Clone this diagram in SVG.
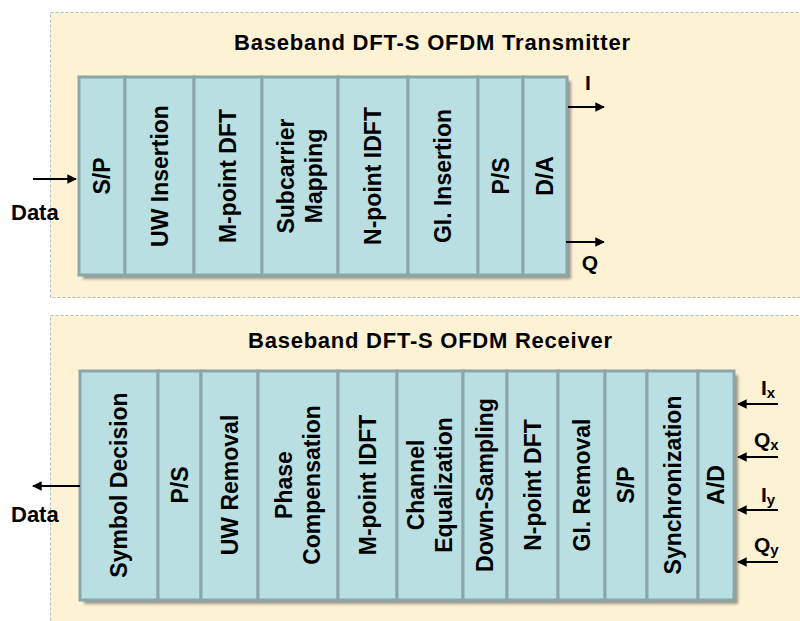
<svg xmlns="http://www.w3.org/2000/svg" width="800" height="621" viewBox="0 0 800 621">
  <style>
    .panel { fill: #fef2d5; stroke: #a9c1c2; stroke-width: 1; stroke-dasharray: 3 2; }
    .cell { fill: #b9dfe2; stroke: #8ba6a8; stroke-width: 3; }
    .lbl { font-family: "Liberation Sans", Arial, sans-serif; font-weight: bold; font-size: 23px; fill: #000; text-anchor: middle; }
    .title { font-family: "Liberation Sans", Arial, sans-serif; font-weight: bold; font-size: 22px; fill: #000; text-anchor: middle; }
    .io { font-family: "Liberation Sans", Arial, sans-serif; font-weight: bold; font-size: 21px; fill: #000; }
    .data { font-size: 22px; }
    .sub { font-size: 15px; }
    .wire { stroke: #000; stroke-width: 2.2; fill: none; marker-end: url(#head); }
  </style>
  <defs>
    <marker id="head" viewBox="0 0 10 10" refX="9" refY="5" markerWidth="4.4" markerHeight="4.4" orient="auto" markerUnits="strokeWidth">
      <path d="M0,0 L10,5 L0,10 z" fill="#000"/>
    </marker>
    <filter id="shadow" x="-5%" y="-5%" width="115%" height="115%">
      <feDropShadow dx="4" dy="4" stdDeviation="1.6" flood-color="#4a4a4a" flood-opacity="0.55"/>
    </filter>
  </defs>

  <!-- Transmitter panel -->
  <g id="tx-panel">
    <rect class="panel" x="50.5" y="12.5" width="760" height="285"/>
    <text class="title" x="432" y="50" textLength="396" lengthAdjust="spacing">Baseband DFT-S OFDM Transmitter</text>
    <rect x="79" y="77" width="488" height="198" fill="#b9dfe2" filter="url(#shadow)"/>
  </g>

  <g id="tx-sp">
    <rect class="cell" x="79" y="77" width="46" height="198"/>
    <text class="lbl" transform="translate(102,176) rotate(-90)" x="0" y="8">S/P</text>
  </g>
  <g id="tx-uw">
    <rect class="cell" x="125" y="77" width="69" height="198"/>
    <text class="lbl" transform="translate(160,176) rotate(-90)" x="0" y="8">UW Insertion</text>
  </g>
  <g id="tx-mdft">
    <rect class="cell" x="194" y="77" width="68" height="198"/>
    <text class="lbl" transform="translate(228,176) rotate(-90)" x="0" y="8">M-point DFT</text>
  </g>
  <g id="tx-submap">
    <rect class="cell" x="262" y="77" width="76" height="198"/>
    <text class="lbl" transform="translate(300,176) rotate(-90)" x="0" y="-6">Subcarrier</text>
    <text class="lbl" transform="translate(300,176) rotate(-90)" x="0" y="22">Mapping</text>
  </g>
  <g id="tx-nidft">
    <rect class="cell" x="338" y="77" width="70" height="198"/>
    <text class="lbl" transform="translate(373,176) rotate(-90)" x="0" y="8">N-point IDFT</text>
  </g>
  <g id="tx-gi">
    <rect class="cell" x="408" y="77" width="70" height="198"/>
    <text class="lbl" transform="translate(443,176) rotate(-90)" x="0" y="8">GI. Insertion</text>
  </g>
  <g id="tx-ps">
    <rect class="cell" x="478" y="77" width="45" height="198"/>
    <text class="lbl" transform="translate(500.5,176) rotate(-90)" x="0" y="8">P/S</text>
  </g>
  <g id="tx-da">
    <rect class="cell" x="523" y="77" width="44" height="198"/>
    <text class="lbl" transform="translate(545,176) rotate(-90)" x="0" y="8">D/A</text>
  </g>

  <!-- Receiver panel -->
  <g id="rx-panel">
    <rect class="panel" x="50.5" y="315.5" width="760" height="320"/>
    <text class="title" x="430" y="348" textLength="364" lengthAdjust="spacing">Baseband DFT-S OFDM Receiver</text>
    <rect x="80" y="371" width="654" height="229" fill="#b9dfe2" filter="url(#shadow)"/>
  </g>

  <g id="rx-decision">
    <rect class="cell" x="80" y="371" width="78" height="229"/>
    <text class="lbl" transform="translate(119,485) rotate(-90)" x="0" y="8">Symbol Decision</text>
  </g>
  <g id="rx-ps">
    <rect class="cell" x="158" y="371" width="43" height="229"/>
    <text class="lbl" transform="translate(179.5,485) rotate(-90)" x="0" y="8">P/S</text>
  </g>
  <g id="rx-uw">
    <rect class="cell" x="201" y="371" width="57" height="229"/>
    <text class="lbl" transform="translate(229.5,485) rotate(-90)" x="0" y="8">UW Removal</text>
  </g>
  <g id="rx-phase">
    <rect class="cell" x="258" y="371" width="80" height="229"/>
    <text class="lbl" transform="translate(298,485) rotate(-90)" x="0" y="-6">Phase</text>
    <text class="lbl" transform="translate(298,485) rotate(-90)" x="0" y="22">Compensation</text>
  </g>
  <g id="rx-midft">
    <rect class="cell" x="338" y="371" width="59" height="229"/>
    <text class="lbl" transform="translate(367.5,485) rotate(-90)" x="0" y="8">M-point IDFT</text>
  </g>
  <g id="rx-eq">
    <rect class="cell" x="397" y="371" width="66" height="229"/>
    <text class="lbl" transform="translate(430,485) rotate(-90)" x="0" y="-6">Channel</text>
    <text class="lbl" transform="translate(430,485) rotate(-90)" x="0" y="22">Equalization</text>
  </g>
  <g id="rx-down">
    <rect class="cell" x="463" y="371" width="44" height="229"/>
    <text class="lbl" transform="translate(485,485) rotate(-90)" x="0" y="8">Down-Sampling</text>
  </g>
  <g id="rx-ndft">
    <rect class="cell" x="507" y="371" width="51" height="229"/>
    <text class="lbl" transform="translate(532.5,485) rotate(-90)" x="0" y="8">N-point DFT</text>
  </g>
  <g id="rx-gi">
    <rect class="cell" x="558" y="371" width="47" height="229"/>
    <text class="lbl" transform="translate(581.5,485) rotate(-90)" x="0" y="8">GI. Removal</text>
  </g>
  <g id="rx-sp">
    <rect class="cell" x="605" y="371" width="42" height="229"/>
    <text class="lbl" transform="translate(626,485) rotate(-90)" x="0" y="8">S/P</text>
  </g>
  <g id="rx-sync">
    <rect class="cell" x="647" y="371" width="51" height="229"/>
    <text class="lbl" transform="translate(672.5,485) rotate(-90)" x="0" y="8">Synchronization</text>
  </g>
  <g id="rx-ad">
    <rect class="cell" x="698" y="371" width="36" height="229"/>
    <text class="lbl" transform="translate(716,485) rotate(-90)" x="0" y="8">A/D</text>
  </g>

  <!-- Signal connectors -->
  <g id="connectors">
    <line class="wire" x1="33" y1="179" x2="76" y2="179"/>
    <line class="wire" x1="568" y1="107" x2="604" y2="107"/>
    <line class="wire" x1="566" y1="242" x2="604" y2="242"/>
    <line class="wire" x1="80" y1="486" x2="33" y2="486"/>
    <line class="wire" x1="778" y1="404" x2="738" y2="404"/>
    <line class="wire" x1="778" y1="457" x2="738" y2="457"/>
    <line class="wire" x1="778" y1="510" x2="738" y2="510"/>
    <line class="wire" x1="778" y1="562" x2="738" y2="562"/>
  </g>

  <!-- Port labels -->
  <g id="labels">
    <text class="io data" x="11" y="220">Data</text>
    <text class="io data" x="11" y="522">Data</text>
    <text class="io" x="588" y="90" text-anchor="middle">I</text>
    <text class="io" x="590" y="270" text-anchor="middle">Q</text>
    <text class="io" x="761" y="395">I<tspan class="sub" dy="3">x</tspan></text>
    <text class="io" x="754" y="447">Q<tspan class="sub" dy="3">x</tspan></text>
    <text class="io" x="761" y="502">I<tspan class="sub" dy="3">y</tspan></text>
    <text class="io" x="754" y="552">Q<tspan class="sub" dy="3">y</tspan></text>
  </g>
</svg>
